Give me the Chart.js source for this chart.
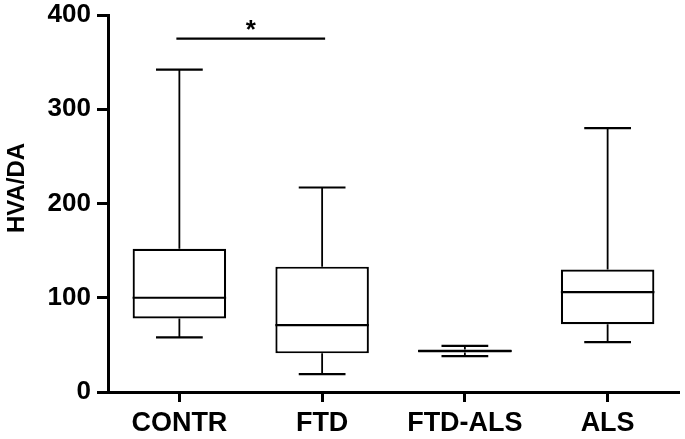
<!DOCTYPE html>
<html>
<head>
<meta charset="utf-8">
<script src="https://cdn.jsdelivr.net/npm/chart.js@4"></script>
<style>
  html, body { margin: 0; padding: 0; background: #fff; }
  #wrap { width: 685px; height: 439px; }
</style>
</head>
<body>
<div id="wrap"><canvas id="chart" width="685" height="439"></canvas></div>
<script>
// box plot data
const categories  = ['CONTR', 'FTD', 'FTD-ALS', 'ALS'];
const whiskerLow  = [58, 19, 38, 53];
const q1          = [78, 41, 42, 72];
const median      = [100, 71, 43.5, 106];
const q3          = [152, 133, 45, 130];
const whiskerHigh = [342, 217, 49, 280];
const yTicks      = [0, 100, 200, 300, 400];
const yTitle      = 'HVA/DA';
// significance bar: [from category, to category, y value, label]
const sigFrom = 0, sigTo = 1, sigY = 375, sigLabel = '*';

const FONT = '"Liberation Sans", Arial, Helvetica, sans-serif';

// draws whiskers, caps, medians, the significance bar and the y title
const boxExtras = {
  id: 'boxExtras',
  afterDatasetsDraw(chart) {
    const ctx = chart.ctx;
    const x = chart.scales.x, y = chart.scales.y;
    const meta = chart.getDatasetMeta(0);
    ctx.save();
    ctx.strokeStyle = '#000';
    ctx.lineCap = 'butt';
    categories.forEach((c, i) => {
      const bar = meta.data[i];
      const cx = bar.x;
      const half = bar.width / 2;
      const capHalf = half / 2;
      const yLo = y.getPixelForValue(whiskerLow[i]);
      const yHi = y.getPixelForValue(whiskerHigh[i]);
      const yQ1 = y.getPixelForValue(q1[i]);
      const yQ3 = y.getPixelForValue(q3[i]);
      const yMed = y.getPixelForValue(median[i]);
      // whiskers
      ctx.lineWidth = 1.8;
      ctx.beginPath();
      ctx.moveTo(cx, yQ3); ctx.lineTo(cx, yHi);
      ctx.moveTo(cx, yQ1); ctx.lineTo(cx, yLo);
      ctx.stroke();
      // caps
      ctx.lineWidth = 2.2;
      ctx.beginPath();
      ctx.moveTo(cx - capHalf, yHi); ctx.lineTo(cx + capHalf, yHi);
      ctx.moveTo(cx - capHalf, yLo); ctx.lineTo(cx + capHalf, yLo);
      ctx.stroke();
      // median
      ctx.lineWidth = 2.2;
      ctx.beginPath();
      ctx.moveTo(cx - half, yMed); ctx.lineTo(cx + half, yMed);
      ctx.stroke();
    });
    // significance line
    const sx1 = x.getPixelForValue(sigFrom) - 3;
    const sx2 = x.getPixelForValue(sigTo) + 3;
    const sy = y.getPixelForValue(sigY);
    ctx.lineWidth = 2.2;
    ctx.beginPath();
    ctx.moveTo(sx1, sy); ctx.lineTo(sx2, sy);
    ctx.stroke();
    ctx.fillStyle = '#000';
    ctx.font = 'bold 26px ' + FONT;
    ctx.textAlign = 'center';
    ctx.textBaseline = 'alphabetic';
    ctx.fillText(sigLabel, (sx1 + sx2) / 2, sy - 1);
    // y axis title
    ctx.translate(17, 188);
    ctx.rotate(-Math.PI / 2);
    ctx.font = 'bold 24px ' + FONT;
    ctx.textBaseline = 'middle';
    ctx.fillText(yTitle, 0, 0);
    ctx.restore();
  }
};

new Chart(document.getElementById('chart'), {
  type: 'bar',
  data: {
    labels: categories,
    datasets: [{
      data: categories.map((c, i) => [q1[i], q3[i]]),
      backgroundColor: '#fff',
      borderColor: '#000',
      borderWidth: 2.2,
      borderSkipped: false,
      barPercentage: 0.655,
      categoryPercentage: 1
    }]
  },
  options: {
    responsive: false,
    animation: false,
    events: [],
    layout: { padding: { top: 15, right: 6, left: 0, bottom: 0 } },
    plugins: { legend: { display: false }, tooltip: { enabled: false } },
    scales: {
      x: {
        afterFit(s) { s.height = 47; s.paddingLeft = 0; s.paddingRight = 0; },
        grid: { offset: false, drawOnChartArea: false, drawTicks: true, tickLength: 10, tickWidth: 3, tickColor: '#000' },
        border: { display: true, color: '#000', width: 3 },
        ticks: { color: '#000', padding: 5, font: { family: FONT, size: 27, weight: 'bold' } }
      },
      y: {
        min: 0, max: 400,
        afterFit(s) { s.width = 108; s.paddingTop = 0; s.paddingBottom = 0; },
        afterBuildTicks(s) { s.ticks = yTicks.map(v => ({ value: v })); },
        grid: { drawOnChartArea: false, drawTicks: true, tickLength: 11, tickWidth: 3, tickColor: '#000' },
        border: { display: true, color: '#000', width: 3 },
        ticks: { color: '#000', padding: 6, font: { family: FONT, size: 26, weight: 'bold' } }
      }
    }
  },
  plugins: [boxExtras]
});
</script>
</body>
</html>
